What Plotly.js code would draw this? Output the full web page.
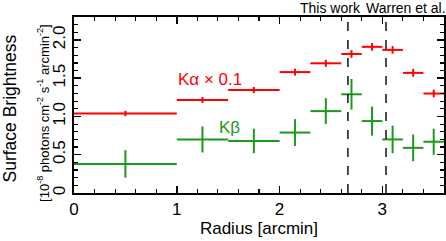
<!DOCTYPE html>
<html>
<head>
<meta charset="utf-8">
<script src="https://cdn.plot.ly/plotly-3.0.1.min.js"></script>
<style>html,body{margin:0;padding:0;background:#fff;}#chart{width:446px;height:241px;}</style>
</head>
<body>
<div id="chart"></div>
<script>
// Radial bins (arcmin)
const binCenter = [0.5, 1.25, 1.75, 2.15, 2.45, 2.7, 2.9, 3.1, 3.3, 3.5];
const binLow    = [0.0, 1.0, 1.5, 2.0, 2.3, 2.6, 2.8, 3.0, 3.2, 3.4];
const binHigh   = [1.0, 1.5, 2.0, 2.3, 2.6, 2.8, 3.0, 3.2, 3.4, 3.6];
// K-alpha (x 0.1) surface brightness and errors
const kaValues = [1.04, 1.215, 1.345, 1.58, 1.695, 1.817, 1.91, 1.87, 1.57, 1.30];
const kaErrors = [0.035, 0.04, 0.04, 0.045, 0.045, 0.05, 0.05, 0.05, 0.05, 0.05];
// K-beta surface brightness and errors
const kbValues = [0.38, 0.70, 0.68, 0.79, 1.07, 1.29, 0.94, 0.70, 0.59, 0.67];
const kbErrors = [0.18, 0.17, 0.16, 0.175, 0.17, 0.20, 0.19, 0.18, 0.175, 0.17];
// Axis tick labels
const yTickVals = [0, 0.5, 1.0, 1.5, 2.0];
const yTickText = ['0', '0.5', '1.0', '1.5', '2.0'];
// Reference radii
const refRadii = [2.665, 3.036];
const refLabels = ['This work', 'Warren et al.'];
const refLabelX = [2.5, 3.23];

const plusErr = binHigh.map((h, i) => h - binCenter[i]);
const minusErr = binCenter.map((c, i) => c - binLow[i]);

function trace(vals, errs, color) {
  return {
    type: 'scatter', mode: 'markers', x: binCenter, y: vals,
    marker: {size: 0.1, color: color},
    error_x: {type: 'data', symmetric: false, array: plusErr, arrayminus: minusErr, width: 0, thickness: 2, color: color},
    error_y: {type: 'data', array: errs, width: 0, thickness: 2, color: color},
    hoverinfo: 'skip', showlegend: false
  };
}

const data = [trace(kaValues, kaErrors, '#ff0000'), trace(kbValues, kbErrors, '#1a9a1a')];

const font = {family: 'Liberation Sans, Arial, sans-serif', color: '#000'};
const f = s => Object.assign({}, font, {size: s});

const shapes = refRadii.map(r => ({
  type: 'line', xref: 'x', yref: 'paper', x0: r, x1: r, y0: 0, y1: 1,
  line: {color: '#222', width: 1.6, dash: 'dash'}
}));

const annotations = refLabels.map((t, i) => ({
  text: t, x: refLabelX[i], xref: 'x', y: 1.05, yref: 'paper', showarrow: false,
  xanchor: 'center', yanchor: 'middle', font: f(14)
}));
annotations.push({text: 'K\u03b1 \u00d7 0.1', x: 1.325, y: 1.48, xref: 'x', yref: 'y', showarrow: false,
  font: Object.assign(f(17), {color: '#ff0000'})});
annotations.push({text: 'K\u03b2', x: 1.51, y: 0.85, xref: 'x', yref: 'y', showarrow: false,
  font: Object.assign(f(17), {color: '#1a9a1a'})});
annotations.push({text: 'Surface Brightness', textangle: -90, x: 0, xref: 'paper', xshift: -64, xanchor: 'center',
  y: 0.48, yref: 'paper', showarrow: false, font: f(17.5)});
annotations.push({text: '[10<sup>-8</sup> photons cm<sup>-2</sup> s<sup>-1</sup> arcmin<sup>-2</sup>]', textangle: -90,
  x: 0, xref: 'paper', xshift: -41, y: 0.455, yref: 'paper', showarrow: false, font: f(13)});

const layout = {
  width: 446, height: 241,
  margin: {l: 74, r: 2, t: 17, b: 48},
  paper_bgcolor: '#fff', plot_bgcolor: '#fff',
  font: font,
  xaxis: {
    range: [0, 3.6], dtick: 1, tick0: 0, ticks: 'inside', ticklen: 7, tickwidth: 1.5, tickcolor: '#000',
    minor: {dtick: 0.2, ticks: 'inside', ticklen: 4, tickwidth: 1.2, tickcolor: '#000'},
    showline: true, linewidth: 2, linecolor: '#000', mirror: 'ticks', showgrid: false, zeroline: false,
    tickfont: f(17),
    title: {text: 'Radius [arcmin]', font: f(17), standoff: 2}
  },
  yaxis: {
    range: [0, 2.3], tickmode: 'array', tickvals: yTickVals, ticktext: yTickText,
    ticks: 'inside', ticklen: 7, tickwidth: 1.5, tickcolor: '#000',
    minor: {dtick: 0.1, tick0: 0, ticks: 'inside', ticklen: 4, tickwidth: 1.2, tickcolor: '#000'},
    showline: true, linewidth: 2, linecolor: '#000', mirror: 'ticks', showgrid: false, zeroline: false,
    tickangle: -90,
    tickfont: f(17)
  },
  shapes: shapes,
  annotations: annotations
};

Plotly.newPlot('chart', data, layout, {displayModeBar: false, staticPlot: true});
</script>
</body>
</html>
